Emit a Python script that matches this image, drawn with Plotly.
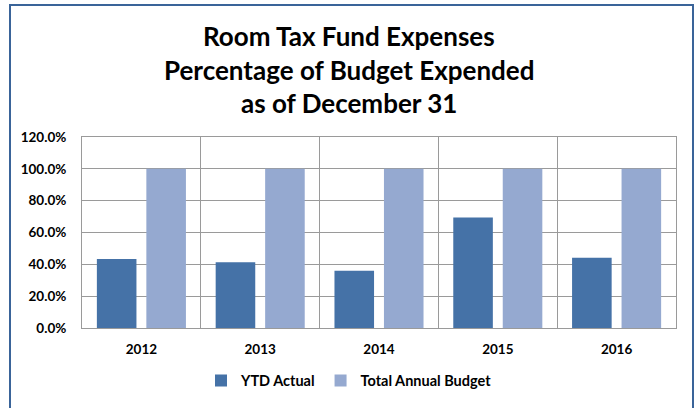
import plotly.graph_objects as go

years = ["2012", "2013", "2014", "2015", "2016"]
ytd_actual = [0.434, 0.413, 0.360, 0.694, 0.442]
total_budget = [1.0, 1.0, 1.0, 1.0, 1.0]

FONT = "Lato"
W, H = 697, 408
L, R, T, B = 82, 21, 137, 78
PW, PH = W - L - R, H - T - B

def px_x(px):
    return (px - L) / PW

def px_y(py):
    return (H - B - py) / PH

fig = go.Figure()
fig.add_trace(go.Bar(name="YTD Actual", x=years, y=ytd_actual, marker_color="#4572A7",
                     marker_line_width=0))
fig.add_trace(go.Bar(name="Total Annual Budget", x=years, y=total_budget, marker_color="#95A9D0",
                     marker_line_width=0))

title_lines = ["Room Tax Fund Expenses", "Percentage of Budget Expended", "as of December 31"]
title_y = [35, 69, 103]
for txt, yy in zip(title_lines, title_y):
    fig.add_annotation(text=f"<b>{txt}</b>", xref="paper", yref="paper",
                       x=px_x(349), y=px_y(yy), showarrow=False,
                       xanchor="center", yanchor="middle",
                       font=dict(family=FONT, size=26, color="#000000"))

fig.add_shape(type="rect", xref="paper", yref="paper",
              x0=px_x(10), x1=px_x(693), y0=px_y(425), y1=px_y(3.5),
              line=dict(color="#3A6499", width=2), layer="below")

fig.update_layout(
    width=W, height=H,
    margin=dict(l=L, r=R, t=T, b=B),
    paper_bgcolor="white", plot_bgcolor="white",
    barmode="group", bargap=0.167, bargroupgap=0.2,
    font=dict(family=FONT, color="#000000"),
    showlegend=True,
    legend=dict(orientation="h", x=px_x(349), xanchor="center", y=px_y(383), yanchor="middle",
                font=dict(family=FONT, size=14.5, color="#000000", weight="bold"),
                itemwidth=30, traceorder="normal"),
)
fig.update_xaxes(type="category", tickson="boundaries", showgrid=True, gridcolor="#9A9A9A",
                 gridwidth=1, showline=True, linecolor="#9A9A9A", linewidth=1, mirror=True,
                 ticks="", tickfont=dict(family=FONT, size=13.5, color="#000000", weight="bold"),
                 ticklabelstandoff=9)
fig.update_yaxes(range=[0, 1.2], dtick=0.2, tickformat=".1%", showgrid=True, gridcolor="#9A9A9A",
                 gridwidth=1, showline=True, linecolor="#9A9A9A", linewidth=1, mirror=True,
                 ticks="", zeroline=False,
                 tickfont=dict(family=FONT, size=13.5, color="#000000", weight="bold"),
                 ticklabelstandoff=12)

fig.write_html("out.html")
